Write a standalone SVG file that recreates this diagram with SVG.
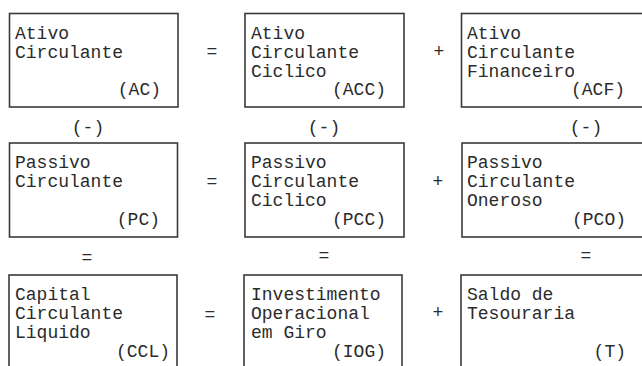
<svg xmlns="http://www.w3.org/2000/svg" width="642" height="366" viewBox="0 0 642 366">
<style>
.box{fill:#fff;stroke:#3a3a3a;stroke-width:1.6}
text{font-family:"Liberation Mono","Courier New",monospace;font-size:18px;fill:#2b2b2b}
.r{text-anchor:end}
.op{text-anchor:middle}
</style>
<rect width="642" height="366" fill="#fff"/>
<g id="ac">
<rect class="box" x="9.5" y="13.5" width="168.5" height="93.5"/>
<text x="15" y="39">Ativo</text>
<text x="15" y="58">Circulante</text>
<text class="r" x="161" y="95">(AC)</text>
</g>
<g id="acc">
<rect class="box" x="245" y="13.5" width="159" height="93.5"/>
<text x="251" y="39">Ativo</text>
<text x="251" y="58">Circulante</text>
<text x="251" y="77">Ciclico</text>
<text class="r" x="386" y="95">(ACC)</text>
</g>
<g id="acf">
<rect class="box" x="461.5" y="13.5" width="200" height="93.5"/>
<text x="467" y="39">Ativo</text>
<text x="467" y="58">Circulante</text>
<text x="467" y="77">Financeiro</text>
<text class="r" x="625" y="95">(ACF)</text>
</g>
<g id="pc">
<rect class="box" x="9.5" y="143" width="168" height="94"/>
<text x="15" y="168">Passivo</text>
<text x="15" y="187">Circulante</text>
<text class="r" x="160" y="225">(PC)</text>
</g>
<g id="pcc">
<rect class="box" x="245" y="143" width="159" height="94"/>
<text x="251" y="168">Passivo</text>
<text x="251" y="187">Circulante</text>
<text x="251" y="206">Ciclico</text>
<text class="r" x="386" y="225">(PCC)</text>
</g>
<g id="pco">
<rect class="box" x="462" y="143" width="200" height="94"/>
<text x="467" y="168">Passivo</text>
<text x="467" y="187">Circulante</text>
<text x="467" y="206">Oneroso</text>
<text class="r" x="626" y="225">(PCO)</text>
</g>
<g id="ccl">
<rect class="box" x="9" y="275" width="168" height="110"/>
<text x="15" y="300">Capital</text>
<text x="15" y="319">Circulante</text>
<text x="15" y="338">Liquido</text>
<text class="r" x="170" y="357">(CCL)</text>
</g>
<g id="iog">
<rect class="box" x="244" y="275" width="158" height="110"/>
<text x="251" y="300">Investimento</text>
<text x="251" y="319">Operacional</text>
<text x="251" y="338">em Giro</text>
<text class="r" x="386" y="357">(IOG)</text>
</g>
<g id="t">
<rect class="box" x="461" y="275" width="200" height="110"/>
<text x="467" y="300">Saldo de</text>
<text x="467" y="319">Tesouraria</text>
<text class="r" x="626" y="357">(T)</text>
</g>
<g id="operators">
<text class="op" x="212" y="57">=</text>
<text class="op" x="439" y="57">+</text>
<text class="op" x="88" y="133">(-)</text>
<text class="op" x="324" y="133">(-)</text>
<text class="op" x="586" y="133">(-)</text>
<text class="op" x="212" y="187">=</text>
<text class="op" x="438" y="187">+</text>
<text class="op" x="87" y="263">=</text>
<text class="op" x="324" y="261">=</text>
<text class="op" x="586" y="261">=</text>
<text class="op" x="210" y="320">=</text>
<text class="op" x="438" y="318">+</text>
</g>
</svg>
